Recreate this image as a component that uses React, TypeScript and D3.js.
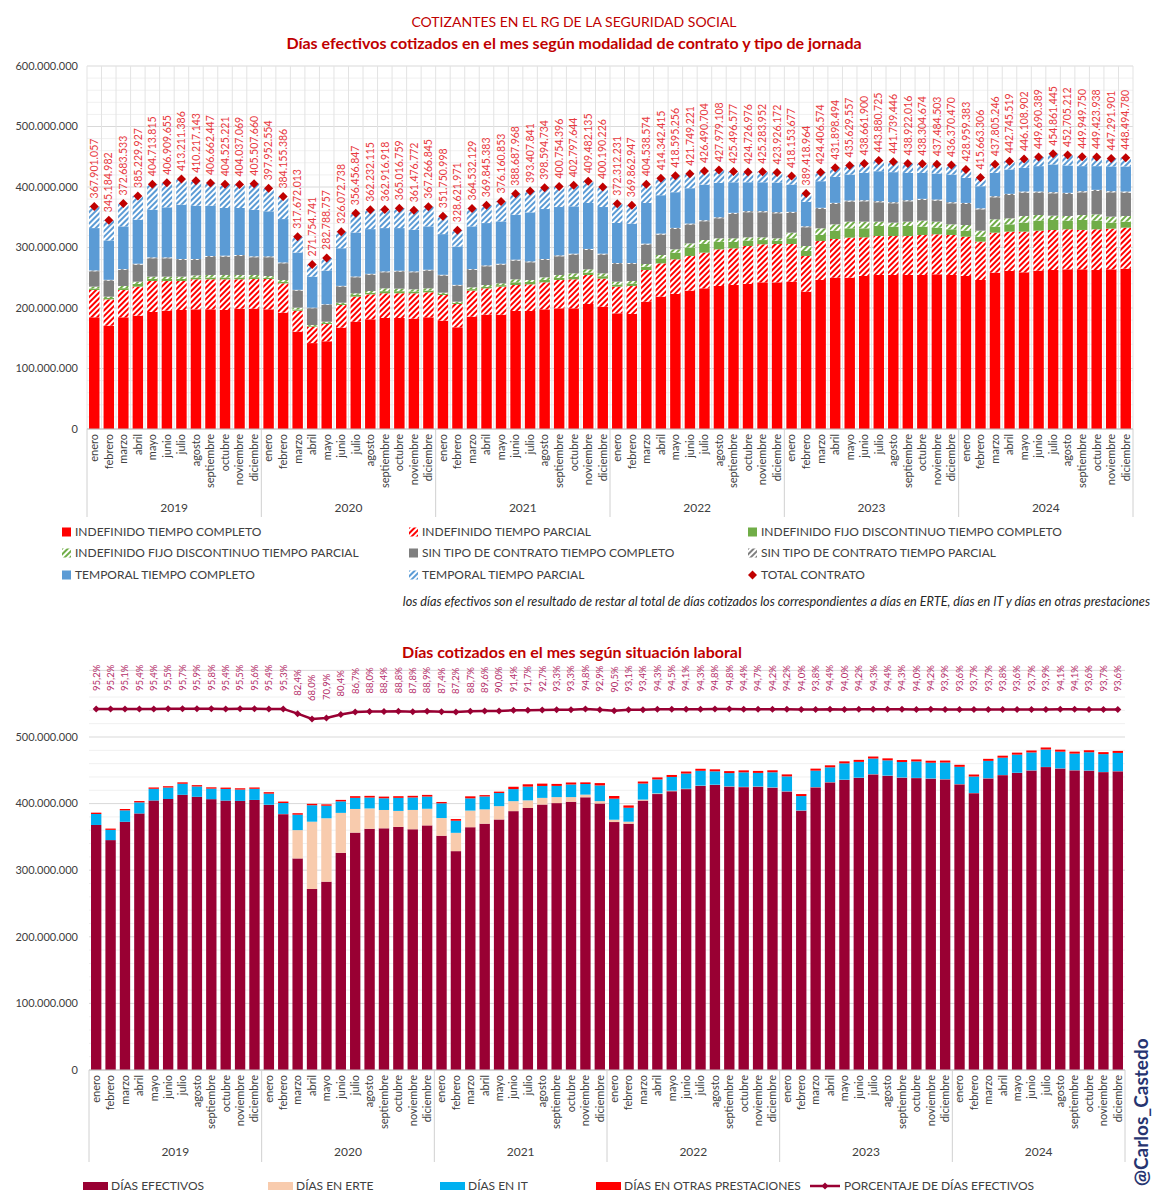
import React, { useEffect, useRef } from "react";
import * as d3 from "d3";

// ---- data ----
const months = ["enero", "febrero", "marzo", "abril", "mayo", "junio", "julio", "agosto", "septiembre", "octubre", "noviembre", "diciembre"];
const years = ["2019", "2020", "2021", "2022", "2023", "2024"];

// total contrato = días efectivos
const totals = [
  367901057, 345184982, 372683533, 385229927, 404713815, 406909655, 413211386, 410217143, 406662447, 404525221, 404037069, 405507660,
  397952554, 384155386, 317672013, 271754741, 282788757, 326072738, 356456847, 362232115, 362916918, 365016759, 361476772, 367266845,
  351750998, 328621971, 364532129, 369845383, 376160853, 388687968, 393407841, 398594734, 400754396, 402797644, 409482135, 400190226,
  372312231, 369862947, 404538574, 414342415, 418595256, 421749221, 426490704, 427979108, 425496577, 424726976, 425283952, 423926172,
  418153677, 389418964, 424406574, 431898494, 435629557, 438661900, 443880725, 441739446, 438922016, 438304674, 437484503, 436370470,
  428959383, 415663306, 437805246, 442745519, 446108902, 449690389, 454861445, 452705212, 449949750, 449423938, 447291901, 448494780,
];

// millions of days
const indefCompleto = [
  184.6, 170.8, 184.6, 187.3, 193.4, 195.6, 196.7, 197.8, 197.8, 196.7, 198.9, 198.9,
  197.8, 192.3, 160.9, 142.0, 145.0, 167.5, 177.4, 181.3, 183.5, 183.5, 182.4, 184.6,
  179.1, 168.1, 185.7, 189.0, 189.0, 195.1, 195.1, 197.8, 199.5, 199.5, 206.6, 202.2,
  191.2, 190.1, 210.5, 218.8, 223.2, 228.7, 232.5, 236.4, 238.0, 239.7, 242.4, 242.4,
  243.5, 227.0, 246.3, 250.2, 250.2, 252.9, 254.6, 254.6, 254.6, 254.6, 255.7, 254.6,
  252.9, 246.3, 258.4, 261.2, 259.0, 261.7, 262.8, 263.9, 263.9, 262.8, 263.9, 265.0,
];
const indefParcial = [
  45.2, 43.5, 45.2, 48.0, 51.2, 49.0, 47.9, 49.6, 49.6, 50.7, 48.5, 49.0,
  50.1, 48.5, 34.7, 27.2, 28.6, 37.5, 41.4, 41.3, 40.8, 40.8, 41.9, 41.3,
  42.4, 38.5, 43.0, 43.5, 46.3, 42.9, 44.0, 44.6, 46.8, 47.9, 48.0, 46.3,
  44.1, 46.3, 52.3, 55.0, 57.3, 57.3, 59.0, 60.6, 60.6, 62.8, 62.9, 63.4,
  62.3, 59.0, 64.5, 63.9, 66.1, 63.9, 64.4, 64.4, 64.4, 66.1, 66.1, 66.1,
  65.0, 63.4, 66.1, 65.0, 67.2, 66.1, 66.1, 66.2, 65.1, 67.3, 67.3, 67.8,
];
const fijoCompleto = [
  2.5, 2.2, 3.0, 4.5, 3.5, 3.5, 3.5, 3.0, 3.0, 3.0, 3.0, 3.0,
  2.2, 2.5, 2.0, 1.2, 1.8, 1.8, 3.0, 2.5, 3.5, 3.5, 3.0, 3.0,
  1.8, 1.8, 2.5, 2.5, 2.5, 4.5, 4.0, 4.0, 3.5, 4.0, 4.0, 4.0,
  3.5, 4.0, 5.5, 8.3, 11.0, 14.0, 14.5, 12.5, 10.5, 9.0, 7.0, 5.5,
  9.4, 8.2, 9.9, 13.7, 15.4, 14.9, 16.6, 15.5, 16.6, 13.8, 11.0, 9.4,
  9.9, 8.2, 10.0, 12.1, 14.9, 16.6, 16.6, 14.3, 16.5, 14.3, 9.9, 9.9,
];
const fijoParcial = [
  3.0, 2.3, 3.6, 3.7, 3.7, 3.7, 3.7, 3.5, 4.2, 4.2, 4.2, 3.7,
  2.8, 3.0, 3.0, 1.5, 2.0, 2.0, 2.5, 3.0, 4.7, 4.2, 3.6, 3.6,
  2.1, 2.1, 3.0, 3.0, 3.0, 4.9, 3.2, 4.3, 4.8, 5.9, 5.3, 4.8,
  4.7, 4.2, 4.4, 5.5, 5.5, 6.9, 6.4, 5.7, 6.1, 5.3, 4.5, 3.9,
  9.3, 8.3, 11.0, 10.5, 11.0, 11.0, 7.1, 6.6, 7.1, 9.9, 9.9, 8.2,
  9.4, 9.9, 12.1, 9.9, 11.0, 9.3, 7.1, 7.7, 8.2, 10.4, 9.9, 9.4,
];
const sinTipoCompleto = [
  25.4, 26.5, 26.5, 28.2, 30.4, 30.4, 27.7, 25.6, 29.8, 30.4, 31.5, 29.3,
  31.0, 27.6, 28.2, 27.7, 27.7, 26.6, 26.5, 27.1, 26.6, 28.2, 28.2, 29.3,
  28.2, 26.5, 28.7, 31.0, 30.9, 31.0, 29.3, 28.8, 30.9, 31.0, 32.1, 31.0,
  29.3, 28.2, 32.1, 33.7, 33.7, 31.0, 31.0, 33.1, 40.3, 41.5, 41.5, 41.4,
  32.7, 31.0, 32.1, 33.7, 33.2, 33.7, 32.1, 32.0, 33.7, 34.2, 34.8, 34.8,
  34.7, 35.3, 36.4, 38.6, 38.6, 37.0, 37.0, 36.4, 37.5, 38.6, 40.2, 38.6,
];
const sinTipoParcial = [
  1.4, 1.3, 1.4, 1.5, 1.5, 1.5, 1.5, 1.5, 1.5, 1.5, 1.5, 1.5,
  1.5, 1.4, 1.2, 1.0, 1.1, 1.2, 1.3, 1.3, 1.4, 1.4, 1.4, 1.4,
  1.3, 1.2, 1.4, 1.4, 1.4, 1.5, 1.5, 1.5, 1.5, 1.5, 1.6, 1.5,
  1.5, 1.5, 1.6, 1.7, 1.7, 1.7, 1.7, 1.7, 1.8, 1.8, 1.8, 1.8,
  1.7, 1.6, 1.8, 1.8, 1.8, 1.8, 1.8, 1.8, 1.8, 1.8, 1.8, 1.8,
  1.8, 1.7, 1.8, 1.9, 1.9, 1.9, 1.9, 1.9, 1.9, 1.9, 1.9, 1.9,
];
const temporalCompleto = [
  70.0, 65.0, 70.6, 72.8, 78.8, 82.7, 89.8, 88.1, 83.2, 78.8, 77.7, 77.0,
  74.4, 71.7, 61.7, 51.2, 55.6, 62.2, 72.7, 73.9, 71.6, 70.5, 68.9, 71.7,
  67.2, 63.4, 70.6, 70.0, 70.0, 74.3, 81.0, 82.6, 79.9, 78.2, 76.0, 77.1,
  66.2, 65.1, 67.2, 63.4, 59.0, 58.4, 58.9, 56.8, 50.5, 47.7, 47.7, 48.9,
  45.1, 40.3, 44.0, 43.0, 42.9, 45.2, 49.5, 49.6, 45.2, 43.0, 43.0, 45.7,
  41.4, 36.5, 38.6, 40.3, 39.2, 41.9, 45.8, 45.2, 41.4, 39.2, 40.9, 41.4,
];
const temporalParcial = [
  35.8, 33.5, 37.8, 39.2, 42.2, 40.5, 42.4, 41.1, 37.6, 39.2, 38.7, 43.1,
  38.2, 37.2, 25.9, 19.9, 20.9, 27.2, 31.7, 31.8, 30.8, 32.9, 32.1, 32.4,
  29.7, 26.9, 29.6, 29.4, 33.1, 34.5, 35.3, 35.0, 33.9, 34.8, 35.9, 33.3,
  31.8, 30.5, 30.9, 27.9, 27.2, 23.7, 22.5, 21.2, 17.7, 16.9, 17.5, 16.6,
  14.2, 14.0, 14.8, 15.1, 15.0, 15.3, 17.8, 17.2, 15.5, 14.9, 15.2, 15.8,
  13.9, 14.4, 14.4, 13.7, 14.3, 15.2, 17.6, 17.1, 15.4, 14.9, 13.3, 14.5,
];

const diasErte = [
  0, 0, 0, 0, 0, 0, 0, 0, 0, 0, 0, 0,
  0.3, 0.3, 42.5, 101.1, 95.2, 60.0, 35.5, 30.5, 27.5, 24.0, 29.0, 25.0,
  26.6, 27.5, 25.0, 21.5, 20.0, 15.0, 11.5, 10.0, 9.0, 7.0, 4.0, 3.5,
  3.5, 3.0, 1.5, 1.0, 0.8, 0.6, 0.5, 0.4, 0.4, 0.4, 0.4, 0.4,
  0.3, 0.3, 0.3, 0.3, 0.3, 0.3, 0.3, 0.3, 0.3, 0.3, 0.3, 0.3,
  0.3, 0.3, 0.3, 0.2, 0.2, 0.2, 0.2, 0.2, 0.2, 0.2, 0.2, 0.2,
];
const diasIT = [
  16.5, 15.4, 17.2, 16.6, 17.5, 17.2, 16.6, 15.5, 15.8, 17.5, 17.0, 16.7,
  16.7, 16.4, 23.2, 24.7, 18.8, 17.3, 16.7, 16.4, 17.6, 19.6, 18.7, 18.3,
  22.1, 18.2, 18.4, 19.4, 19.8, 18.1, 20.6, 17.9, 16.8, 18.9, 15.9, 23.6,
  31.6, 20.9, 24.1, 21.0, 20.6, 22.8, 22.3, 20.1, 19.9, 21.8, 20.4, 22.7,
  22.4, 21.6, 24.8, 22.3, 24.5, 23.7, 23.5, 22.9, 23.2, 24.7, 23.6, 25.0,
  26.0, 24.7, 26.1, 26.0, 27.2, 26.9, 26.2, 25.1, 24.9, 27.5, 26.8, 27.4,
];
const diasOtras = [
  2.0, 1.9, 2.0, 2.0, 2.0, 2.0, 2.1, 2.0, 2.0, 2.0, 2.0, 2.0,
  2.2, 2.2, 2.2, 2.1, 2.1, 2.2, 2.5, 2.5, 2.5, 2.5, 2.5, 2.5,
  2.0, 2.5, 3.0, 2.0, 2.0, 3.5, 3.5, 3.5, 3.0, 3.0, 2.5, 3.5,
  4.0, 3.5, 3.0, 3.0, 3.0, 3.0, 3.0, 3.0, 3.0, 3.0, 3.0, 3.0,
  3.0, 3.0, 3.0, 3.0, 3.0, 3.0, 3.0, 3.0, 3.0, 3.0, 3.0, 3.0,
  3.0, 3.0, 3.0, 3.0, 3.0, 3.0, 3.0, 3.0, 3.0, 3.0, 3.0, 3.0,
];
const pctEfectivos = [
  95.2, 95.2, 95.1, 95.4, 95.4, 95.5, 95.7, 95.9, 95.8, 95.4, 95.5, 95.6,
  95.4, 95.3, 82.4, 68.0, 70.9, 80.4, 86.7, 88.0, 88.4, 88.8, 87.8, 88.9,
  87.4, 87.2, 88.7, 89.6, 90.0, 91.4, 91.7, 92.7, 93.3, 93.3, 94.8, 92.9,
  90.5, 93.1, 93.4, 94.3, 94.5, 94.1, 94.3, 94.8, 94.8, 94.4, 94.7, 94.2,
  94.2, 94.0, 93.8, 94.4, 94.0, 94.2, 94.3, 94.4, 94.3, 94.0, 94.2, 93.9,
  93.6, 93.7, 93.7, 93.8, 93.6, 93.7, 93.9, 94.1, 94.1, 93.6, 93.7, 93.6,
];

const topSeries = [
  { key: "ic", label: "INDEFINIDO TIEMPO COMPLETO", values: indefCompleto, color: "#FF0000", hatch: false },
  { key: "ip", label: "INDEFINIDO TIEMPO PARCIAL", values: indefParcial, color: "#FF0000", hatch: true },
  { key: "fc", label: "INDEFINIDO FIJO DISCONTINUO TIEMPO COMPLETO", values: fijoCompleto, color: "#70AD47", hatch: false },
  { key: "fp", label: "INDEFINIDO FIJO DISCONTINUO TIEMPO PARCIAL", values: fijoParcial, color: "#70AD47", hatch: true },
  { key: "sc", label: "SIN TIPO DE CONTRATO TIEMPO COMPLETO", values: sinTipoCompleto, color: "#7F7F7F", hatch: false },
  { key: "sp", label: "SIN TIPO DE CONTRATO TIEMPO PARCIAL", values: sinTipoParcial, color: "#7F7F7F", hatch: true },
  { key: "tc", label: "TEMPORAL TIEMPO COMPLETO", values: temporalCompleto, color: "#5B9BD5", hatch: false },
  { key: "tp", label: "TEMPORAL TIEMPO PARCIAL", values: temporalParcial, color: "#5B9BD5", hatch: true },
];

const bottomSeries = [
  { key: "ef", label: "DÍAS EFECTIVOS", values: totals.map(v => v / 1e6), color: "#990033" },
  { key: "erte", label: "DÍAS EN ERTE", values: diasErte, color: "#F8CBAD" },
  { key: "it", label: "DÍAS EN IT", values: diasIT, color: "#00B0F0" },
  { key: "ot", label: "DÍAS EN OTRAS PRESTACIONES", values: diasOtras, color: "#FF0000" },
];

const FONT = "Lato, 'Liberation Sans', Arial, sans-serif";
const AXIS = "#404040";
const fmtNum = (v: number) => d3.format(",")(Math.round(v)).replace(/,/g, ".");
const fmtPct = (v: number) => d3.format(".1f")(v).replace(".", ",") + "%";
const diamond = (r: number) => `M0,${-r}L${r},0L0,${r}L${-r},0Z`;

const App: React.FC = () => {
  const svgRef = useRef<SVGSVGElement | null>(null);

  useEffect(() => {
    document.body.style.margin = "0";
    const svg = d3.select(svgRef.current);
    svg.selectAll("*").remove();

    const n = totals.length;
    const idx = d3.range(n);

    // hatch patterns (wide upward diagonal)
    const defs = svg.append("defs");
    const hatchId = (c: string) => "hatch" + c.replace("#", "");
    Array.from(new Set(topSeries.filter(s => s.hatch).map(s => s.color))).forEach(c => {
      const p = defs.append("pattern")
        .attr("id", hatchId(c))
        .attr("patternUnits", "userSpaceOnUse")
        .attr("width", 4).attr("height", 4)
        .attr("patternTransform", "rotate(45)");
      p.append("rect").attr("width", 4).attr("height", 4).attr("fill", "#fff");
      p.append("rect").attr("width", 2).attr("height", 4).attr("fill", c);
    });
    const fillOf = (s: { color: string; hatch?: boolean }) => s.hatch ? `url(#${hatchId(s.color)})` : s.color;

    // titles
    svg.append("text").attr("x", 574).attr("y", 27).attr("text-anchor", "middle")
      .attr("font-size", 14).attr("fill", "#C00000").text("COTIZANTES EN EL RG DE LA SEGURIDAD SOCIAL");
    svg.append("text").attr("x", 574).attr("y", 49).attr("text-anchor", "middle")
      .attr("font-size", 16).attr("font-weight", "bold").attr("fill", "#C00000")
      .text("Días efectivos cotizados en el mes según modalidad de contrato y tipo de jornada");

    // ================= TOP CHART =================
    const tL = 87, tR = 1133, tT = 66, tB = 429;
    const xT = d3.scaleBand<number>().domain(idx).range([tL, tR]).paddingInner(0.28).paddingOuter(0.14);
    const yT = d3.scaleLinear().domain([0, 600e6]).range([tB, tT]);
    const top = svg.append("g");

    // gridlines
    top.append("g").selectAll("line").data(d3.range(0, 600e6 + 1, 20e6)).join("line")
      .attr("x1", tL).attr("x2", tR).attr("y1", d => yT(d)).attr("y2", d => yT(d))
      .attr("stroke", d => d % 100e6 === 0 ? "#D9D9D9" : "#F0F0F0").attr("stroke-width", 1);
    top.append("g").selectAll("line").data(d3.range(n + 1)).join("line")
      .attr("x1", i => tL + i * xT.step()).attr("x2", i => tL + i * xT.step())
      .attr("y1", tT).attr("y2", tB).attr("stroke", "#E3E3E3");

    const topRows = idx.map(i => {
      const r: Record<string, number> = {};
      topSeries.forEach(s => { r[s.key] = s.values[i] * 1e6; });
      return r;
    });
    const topStack = d3.stack<Record<string, number>>().keys(topSeries.map(s => s.key))(topRows);
    top.append("g").selectAll("g").data(topStack).join("g")
      .attr("fill", (d, k) => fillOf(topSeries[k]))
      .selectAll("rect").data(d => d.map((v, i) => ({ v, i }))).join("rect")
      .attr("x", d => xT(d.i)!)
      .attr("width", xT.bandwidth())
      .attr("y", d => yT(d.v[1]))
      .attr("height", d => Math.max(0, yT(d.v[0]) - yT(d.v[1])));

    // total markers and labels
    top.append("g").selectAll("path").data(idx).join("path")
      .attr("d", diamond(4.5))
      .attr("transform", i => `translate(${xT(i)! + xT.bandwidth() / 2},${yT(totals[i])})`)
      .attr("fill", "#C00000");
    top.append("g").selectAll("text").data(idx).join("text")
      .attr("transform", i => `translate(${xT(i)! + xT.bandwidth() / 2},${yT(totals[i]) - 8}) rotate(-90)`)
      .attr("dy", "0.35em").attr("font-size", 10.5).attr("fill", "#E8383D")
      .text(i => fmtNum(totals[i]));

    // y axis labels
    top.append("g").selectAll("text").data(d3.range(0, 600e6 + 1, 100e6)).join("text")
      .attr("x", 78).attr("y", d => yT(d)).attr("dy", "0.35em").attr("text-anchor", "end")
      .attr("font-size", 11).attr("fill", AXIS).text(d => fmtNum(d));

    // x axis
    top.append("line").attr("x1", tL).attr("x2", tR).attr("y1", tB).attr("y2", tB).attr("stroke", "#BFBFBF");
    top.append("g").selectAll("text").data(idx).join("text")
      .attr("transform", i => `translate(${xT(i)! + xT.bandwidth() / 2},${tB + 5}) rotate(-90)`)
      .attr("dy", "0.35em").attr("text-anchor", "end").attr("font-size", 11).attr("fill", AXIS)
      .text(i => months[i % 12]);
    top.append("g").selectAll("line").data(d3.range(years.length + 1)).join("line")
      .attr("x1", k => tL + k * 12 * xT.step()).attr("x2", k => tL + k * 12 * xT.step())
      .attr("y1", tB).attr("y2", 517).attr("stroke", "#D0D0D0");
    top.append("g").selectAll("text").data(years).join("text")
      .attr("x", (d, k) => tL + (k + 0.5) * 12 * xT.step()).attr("y", 512)
      .attr("text-anchor", "middle").attr("font-size", 12).attr("fill", AXIS).text(d => d);

    // legend
    const legCols = [62, 409, 748];
    const legRows = [532, 553, 575];
    const legItems = [...topSeries.map(s => ({ label: s.label, fill: fillOf(s), marker: "rect" })),
      { label: "TOTAL CONTRATO", fill: "#C00000", marker: "diamond" }];
    const lg = svg.append("g").selectAll("g").data(legItems).join("g")
      .attr("transform", (d, k) => `translate(${legCols[k % 3]},${legRows[Math.floor(k / 3)]})`);
    lg.filter(d => d.marker === "rect").append("rect")
      .attr("x", 0).attr("y", -4.5).attr("width", 9).attr("height", 9).attr("fill", d => d.fill);
    lg.filter(d => d.marker === "diamond").append("path")
      .attr("d", diamond(4.5)).attr("transform", "translate(4.5,0)").attr("fill", d => d.fill);
    lg.append("text").attr("x", 13).attr("dy", "0.35em").attr("font-size", 12).attr("fill", AXIS)
      .text(d => d.label);

    svg.append("text").attr("x", 1150).attr("y", 606).attr("text-anchor", "end")
      .attr("font-size", 12.7).attr("font-style", "italic").attr("fill", "#262626")
      .text("los días efectivos son el resultado de restar al total de días cotizados los correspondientes a días en ERTE, días en IT y días en otras prestaciones");

    // ================= BOTTOM CHART =================
    svg.append("text").attr("x", 572).attr("y", 658).attr("text-anchor", "middle")
      .attr("font-size", 16).attr("font-weight", "bold").attr("fill", "#C00000")
      .text("Días cotizados en el mes según situación laboral");

    const bL = 89, bR = 1125, bB = 1070;
    const xB = d3.scaleBand<number>().domain(idx).range([bL, bR]).paddingInner(0.28).paddingOuter(0.14);
    const yB = d3.scaleLinear().domain([0, 600]).range([bB, 670.4]);
    const yP = d3.scaleLinear().domain([0, 100]).range([744, 707.2]);
    const bot = svg.append("g");

    bot.append("g").selectAll("line").data(d3.range(0, 601, 20)).join("line")
      .attr("x1", bL).attr("x2", bR).attr("y1", d => yB(d)).attr("y2", d => yB(d))
      .attr("stroke", d => d % 100 === 0 ? "#D9D9D9" : "#F0F0F0");

    const botRows = idx.map(i => {
      const r: Record<string, number> = {};
      bottomSeries.forEach(s => { r[s.key] = s.values[i]; });
      return r;
    });
    const botStack = d3.stack<Record<string, number>>().keys(bottomSeries.map(s => s.key))(botRows);
    bot.append("g").selectAll("g").data(botStack).join("g")
      .attr("fill", (d, k) => bottomSeries[k].color)
      .selectAll("rect").data(d => d.map((v, i) => ({ v, i }))).join("rect")
      .attr("x", d => xB(d.i)!)
      .attr("width", xB.bandwidth())
      .attr("y", d => yB(d.v[1]))
      .attr("height", d => Math.max(0, yB(d.v[0]) - yB(d.v[1])));

    // percentage line
    const cxB = (i: number) => xB(i)! + xB.bandwidth() / 2;
    bot.append("path").datum(idx)
      .attr("d", d3.line<number>().x(i => cxB(i)).y(i => yP(pctEfectivos[i])))
      .attr("fill", "none").attr("stroke", "#990033").attr("stroke-width", 2.5);
    bot.append("g").selectAll("path").data(idx).join("path")
      .attr("d", diamond(3.5))
      .attr("transform", i => `translate(${cxB(i)},${yP(pctEfectivos[i])})`)
      .attr("fill", "#990033");
    bot.append("g").selectAll("text").data(idx).join("text")
      .attr("transform", i => `translate(${cxB(i)},${yP(pctEfectivos[i]) - 18}) rotate(-90)`)
      .attr("dy", "0.35em").attr("font-size", 9.5).attr("fill", "#B5306A")
      .text(i => fmtPct(pctEfectivos[i]));

    bot.append("g").selectAll("text").data(d3.range(0, 501, 100)).join("text")
      .attr("x", 78).attr("y", d => yB(d)).attr("dy", "0.35em").attr("text-anchor", "end")
      .attr("font-size", 11).attr("fill", AXIS).text(d => fmtNum(d * 1e6));

    bot.append("line").attr("x1", bL).attr("x2", bR).attr("y1", bB).attr("y2", bB).attr("stroke", "#BFBFBF");
    bot.append("g").selectAll("text").data(idx).join("text")
      .attr("transform", i => `translate(${cxB(i)},${bB + 5}) rotate(-90)`)
      .attr("dy", "0.35em").attr("text-anchor", "end").attr("font-size", 11).attr("fill", AXIS)
      .text(i => months[i % 12]);
    bot.append("g").selectAll("line").data(d3.range(years.length + 1)).join("line")
      .attr("x1", k => bL + k * 12 * xB.step()).attr("x2", k => bL + k * 12 * xB.step())
      .attr("y1", bB).attr("y2", 1162).attr("stroke", "#D0D0D0");
    bot.append("g").selectAll("text").data(years).join("text")
      .attr("x", (d, k) => bL + (k + 0.5) * 12 * xB.step()).attr("y", 1156)
      .attr("text-anchor", "middle").attr("font-size", 12).attr("fill", AXIS).text(d => d);

    // bottom legend
    const bLegX = [83, 268, 440, 596];
    const bl = svg.append("g").selectAll("g").data(bottomSeries).join("g")
      .attr("transform", (d, k) => `translate(${bLegX[k]},1186)`);
    bl.append("rect").attr("y", -4).attr("width", 25).attr("height", 8).attr("fill", d => d.color);
    bl.append("text").attr("x", 28).attr("dy", "0.35em").attr("font-size", 12).attr("fill", AXIS).text(d => d.label);
    const pl = svg.append("g").attr("transform", "translate(810,1186)");
    pl.append("line").attr("x1", 0).attr("x2", 30).attr("stroke", "#990033").attr("stroke-width", 2.5);
    pl.append("path").attr("d", diamond(3.5)).attr("transform", "translate(15,0)").attr("fill", "#990033");
    pl.append("text").attr("x", 34).attr("dy", "0.35em").attr("font-size", 12).attr("fill", AXIS)
      .text("PORCENTAJE DE DÍAS EFECTIVOS");

    // signature
    svg.append("text").attr("transform", "translate(1141,1186) rotate(-90)")
      .attr("dy", "0.35em").attr("font-size", 19).attr("font-weight", "bold").attr("fill", "#263470")
      .text("@Carlos_Castedo");
  }, []);

  return <svg ref={svgRef} width={1152} height={1200} style={{ display: "block", fontFamily: FONT, background: "#fff" }} />;
};

export default App;
